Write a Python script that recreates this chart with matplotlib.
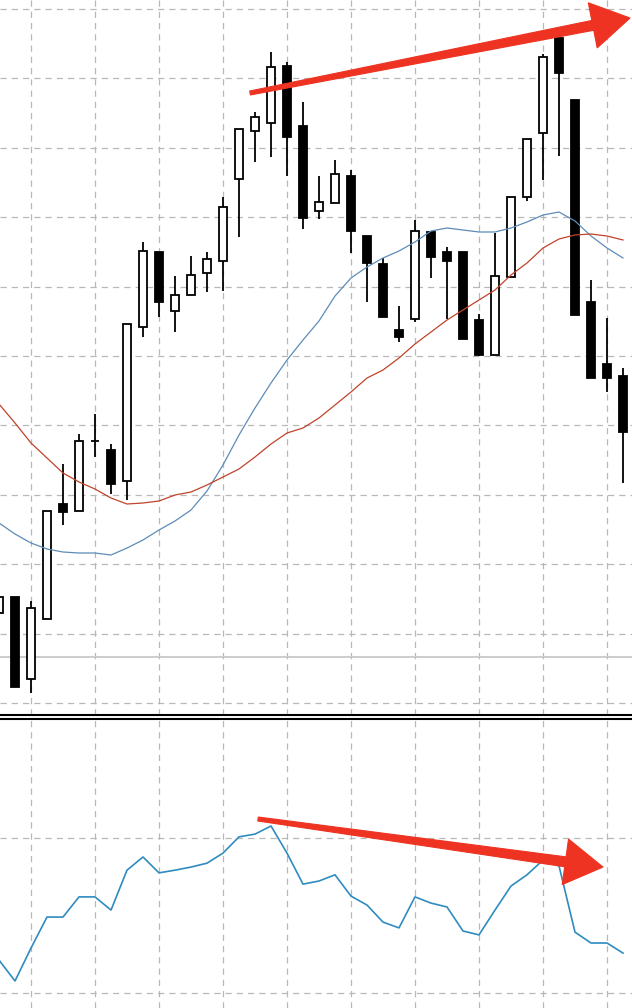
import numpy as np
import matplotlib
matplotlib.use("Agg")
import matplotlib.pyplot as plt
from matplotlib.patches import Polygon

# price candles (open, high, low, close), one per bar
opens = [1.3090, 1.3106, 1.3024, 1.3084, 1.3199, 1.3192, 1.3262, 1.3253, 1.3222, 1.3376,
         1.3451, 1.3392, 1.3408, 1.3430, 1.3442, 1.3524, 1.3572, 1.3580, 1.3637, 1.3577,
         1.3492, 1.3500, 1.3527, 1.3467, 1.3439, 1.3373, 1.3384, 1.3471, 1.3451, 1.3451,
         1.3383, 1.3348, 1.3426, 1.3506, 1.3570, 1.3665, 1.3603, 1.3401, 1.3339, 1.3327]
highs = [1.3108, 1.3106, 1.3102, 1.3192, 1.3239, 1.3269, 1.3289, 1.3259, 1.3379, 1.3461,
         1.3451, 1.3427, 1.3447, 1.3451, 1.3506, 1.3574, 1.3591, 1.3651, 1.3641, 1.3601,
         1.3527, 1.3543, 1.3533, 1.3467, 1.3445, 1.3397, 1.3483, 1.3471, 1.3456, 1.3451,
         1.3389, 1.3470, 1.3506, 1.3564, 1.3649, 1.3665, 1.3603, 1.3423, 1.3385, 1.3335]
lows = [1.3088, 1.3016, 1.3010, 1.3084, 1.3178, 1.3192, 1.3246, 1.3209, 1.3203, 1.3366,
        1.3386, 1.3371, 1.3408, 1.3411, 1.3412, 1.3466, 1.3541, 1.3546, 1.3527, 1.3474,
        1.3484, 1.3500, 1.3450, 1.3401, 1.3386, 1.3361, 1.3381, 1.3425, 1.3384, 1.3364,
        1.3347, 1.3348, 1.3426, 1.3502, 1.3523, 1.3547, 1.3388, 1.3325, 1.3311, 1.3220]
closes = [1.3106, 1.3016, 1.3095, 1.3192, 1.3191, 1.3262, 1.3262, 1.3219, 1.3379, 1.3452,
          1.3401, 1.3408, 1.3428, 1.3444, 1.3496, 1.3574, 1.3586, 1.3636, 1.3566, 1.3485,
          1.3501, 1.3529, 1.3472, 1.3440, 1.3386, 1.3366, 1.3472, 1.3446, 1.3442, 1.3364,
          1.3348, 1.3427, 1.3506, 1.3564, 1.3646, 1.3630, 1.3388, 1.3325, 1.3325, 1.3271]

# moving averages
ma_fast = [1.3180, 1.3169, 1.3160, 1.3154, 1.3151, 1.3150, 1.3150, 1.3148, 1.3155, 1.3163,
           1.3173, 1.3182, 1.3193, 1.3212, 1.3238, 1.3268, 1.3295, 1.3320, 1.3343, 1.3363,
           1.3382, 1.3407, 1.3425, 1.3436, 1.3445, 1.3452, 1.3461, 1.3472, 1.3475, 1.3473,
           1.3471, 1.3471, 1.3475, 1.3481, 1.3488, 1.3491, 1.3482, 1.3467, 1.3455, 1.3445]
ma_slow = [1.3299, 1.3280, 1.3260, 1.3245, 1.3230, 1.3221, 1.3214, 1.3205, 1.3199, 1.3200,
           1.3202, 1.3208, 1.3211, 1.3218, 1.3226, 1.3234, 1.3246, 1.3259, 1.3270, 1.3275,
           1.3285, 1.3298, 1.3311, 1.3325, 1.3333, 1.3345, 1.3359, 1.3371, 1.3383, 1.3393,
           1.3403, 1.3413, 1.3428, 1.3440, 1.3455, 1.3464, 1.3468, 1.3469, 1.3467, 1.3463]

# oscillator (lower pane)
osc = [38.5, 33.1, 41.6, 49.6, 49.6, 54.8, 54.8, 51.4, 61.7, 65.1,
       61.0, 61.7, 62.5, 63.5, 66.1, 70.3, 71.0, 73.1, 66.1, 58.1,
       58.9, 60.5, 55.0, 52.7, 48.3, 46.8, 54.8, 53.2, 52.2, 46.0,
       45.0, 51.4, 57.6, 60.5, 64.3, 62.8, 45.7, 42.9, 42.9, 40.3]

level_line = 1.3046
price_grid = np.linspace(1.3000, 1.3694, 11)
osc_grid = [30, 70]
time_grid = np.arange(2, 40, 4)

# divergence arrows: (start x, start y) -> (tip x, tip y)
price_arrow = ((15.69, 1.3610), (39.44, 1.3685))
osc_arrow = ((16.19, 74.9), (37.75, 62.5))

x = np.arange(len(opens))
o = np.array(opens)
c = np.array(closes)
bull = c >= o

fig = plt.figure(figsize=(6.32, 10.08), dpi=100)
ax = fig.add_axes([0, 0.29067, 1, 0.70933])
ax2 = fig.add_axes([0, 0, 1, 0.28671])

grid_kw = dict(color="#b8b8b8", lw=0.9, linestyle=(0, (5, 4)), zorder=0)

for a in (ax, ax2):
    a.set_xlim(0.0625, 39.5625)
    a.set_xticks([])
    a.set_yticks([])
    for s in a.spines.values():
        s.set_visible(False)
    for t in time_grid:
        a.axvline(t, **grid_kw)

ax.set_ylim(1.2988, 1.3703)
ax2.set_ylim(26.13, 100.71)
ax.spines["bottom"].set_visible(True)
ax.spines["bottom"].set_linewidth(1.5)
ax2.spines["top"].set_visible(True)
ax2.spines["top"].set_linewidth(1.5)

for p in price_grid:
    ax.axhline(p, **grid_kw)
for g in osc_grid:
    ax2.axhline(g, **grid_kw)
ax.axhline(level_line, color="#c8c8c8", lw=1.3, zorder=1)

# candles
ax.vlines(x, lows, highs, color="black", lw=1.3, zorder=2)
body_lo = np.minimum(o, c)
body_h = np.abs(c - o)
ax.bar(x[bull], body_h[bull], bottom=body_lo[bull], width=0.5,
       color="white", edgecolor="black", linewidth=1.3, zorder=3)
ax.bar(x[~bull], body_h[~bull], bottom=body_lo[~bull], width=0.5,
       color="black", edgecolor="black", linewidth=1.3, zorder=3)

ax.plot(x, ma_fast, color="#5d8cb8", lw=0.9, zorder=4)
ax.plot(x, ma_slow, color="#c0432a", lw=0.9, zorder=4)

ax2.plot(x, osc, color="#2f8bc0", lw=1.2, zorder=3)


def draw_arrow(a, start, tip, w0=2.0, w1=5.0, head_len=38.0, head_w=23.0):
    s = a.transData.transform(start)
    t = a.transData.transform(tip)
    d = (t - s) / np.hypot(*(t - s))
    n = np.array([-d[1], d[0]])
    b = t - d * head_len
    pts = [s + n * w0, b + n * w1, b + n * head_w, t,
           b - n * head_w, b - n * w1, s - n * w0]
    a.add_patch(Polygon(pts, closed=True, transform=None, facecolor="#ee3322",
                        edgecolor="#ee3322", lw=0.8, zorder=6, clip_on=False))


draw_arrow(ax, *price_arrow)
draw_arrow(ax2, *osc_arrow)

fig.savefig("out.png", dpi=100, facecolor="white")
